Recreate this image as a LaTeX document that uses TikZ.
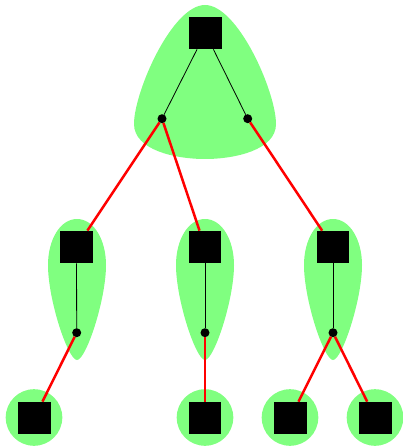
\documentclass[tikz,border=0pt]{standalone}
\begin{document}
\begin{tikzpicture}[x=1pt,y=-1pt,
  blob/.style={fill=grn,draw=none},
  sq/.style={fill=black,draw=none,minimum size=32.7pt,inner sep=0pt,outer sep=0pt},
  dotn/.style={circle,fill=black,draw=none,minimum size=9pt,inner sep=0pt,outer sep=0pt},
  blk/.style={draw=black,line width=0.8pt},
  redl/.style={draw=red,line width=2.5pt}]
\definecolor{grn}{HTML}{80FF80}
\useasboundingbox (0,0) rectangle (402,446);
% blobs
\path[blob] (205,5) .. controls (172,5) and (134,92) .. (134,124) .. controls (134,150) and (175,159) .. (205,159) .. controls (235,159) and (276,150) .. (276,124) .. controls (276,92) and (238,5) .. (205,5);
\foreach \cx in {77,205,333}{
  \path[blob] (\cx,219) .. controls ({\cx-17},219) and ({\cx-29},240) .. ({\cx-29},265) .. controls ({\cx-29},300) and ({\cx-9},360) .. (\cx,360) .. controls ({\cx+9},360) and ({\cx+29},300) .. ({\cx+29},265) .. controls ({\cx+29},240) and ({\cx+17},219) .. (\cx,219);
}
\foreach \cx in {34,205,290,375}{
  \path[blob] (\cx,417.5) circle (28.3);
}
% nodes
\node[sq] (t) at (205.3,33) {};
\node[dotn] (dl) at (162,118.7) {};
\node[dotn] (dr) at (247.7,118.7) {};
\node[sq] (m1) at (76.5,247) {};
\node[sq] (m2) at (205,247) {};
\node[sq] (m3) at (333,247) {};
\node[dotn] (e1) at (76.7,332.7) {};
\node[dotn] (e2) at (205,332.7) {};
\node[dotn] (e3) at (333,332.7) {};
\node[sq] (b1) at (34.3,418) {};
\node[sq] (b2) at (205,418) {};
\node[sq] (b3) at (290.3,418) {};
\node[sq] (b4) at (375.3,418) {};
% connectors
\draw[blk] (t) -- (dl);
\draw[blk] (t) -- (dr);
\draw[blk] (m1) -- (e1);
\draw[blk] (m2) -- (e2);
\draw[blk] (m3) -- (e3);
\draw[redl] (dl) -- (m1);
\draw[redl] (dl) -- (m2);
\draw[redl] (dr) -- (m3);
\draw[redl] (e1) -- (b1);
\draw[redl] (e2) -- (b2);
\draw[redl] (e3) -- (b3);
\draw[redl] (e3) -- (b4);
\end{tikzpicture}
\end{document}
